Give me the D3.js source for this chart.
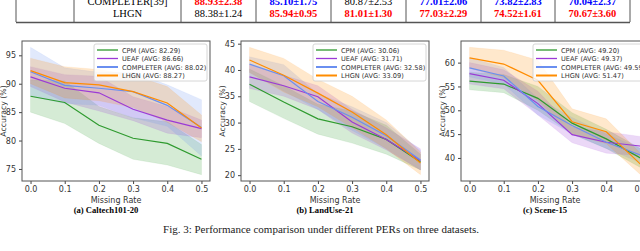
<!DOCTYPE html>
<html>
<head>
<meta charset="utf-8">
<script src="https://cdn.jsdelivr.net/npm/d3@7"></script>
<style>
  body { margin: 0; background: #fff; }
  svg { display: block; }
</style>
</head>
<body>
<div id="fig"></div>
<script>
// ---- data ----
const rates = [0.0, 0.1, 0.2, 0.3, 0.4, 0.5];
const methods = ['CPM', 'UEAF', 'COMPLETER', 'LHGN'];
const methodColors = ['#2e9a2e', '#9b3ad6', '#6a8ff0', '#ff8c00'];

const caltechMean = [
  [87.8, 86.7, 82.7, 80.4, 79.5, 76.7],
  [91.2, 89.2, 88.4, 85.5, 83.6, 82.1],
  [92.1, 89.7, 89.2, 88.6, 86.2, 82.3],
  [92.3, 90.2, 89.8, 88.6, 86.6, 82.2]
];
const caltechLow = [
  [85.0, 83.0, 79.5, 76.7, 75.7, 74.0],
  [89.5, 86.8, 85.2, 83.5, 81.3, 80.5],
  [87.8, 86.5, 86.2, 84.0, 82.5, 77.3],
  [90.0, 87.5, 87.0, 85.8, 83.2, 79.8]
];
const caltechHigh = [
  [90.7, 90.5, 86.0, 84.0, 83.3, 79.3],
  [93.0, 91.6, 91.3, 87.7, 86.0, 83.6],
  [96.4, 92.8, 92.0, 92.0, 89.8, 87.2],
  [94.5, 93.0, 92.5, 91.5, 89.5, 84.5]
];
const caltechAvg = ['82.29', '86.66', '88.02', '88.27'];

const landuseMean = [
  [37.3, 33.9, 30.7, 29.2, 26.8, 22.5],
  [38.7, 37.0, 34.9, 30.1, 26.8, 22.8],
  [41.1, 38.9, 34.0, 31.0, 27.5, 22.9],
  [41.9, 39.0, 35.6, 32.0, 27.7, 22.3]
];
const landuseLow = [
  [34.0, 30.8, 27.8, 26.1, 24.0, 21.0],
  [36.5, 35.0, 32.5, 28.0, 24.8, 21.0],
  [39.5, 36.0, 32.5, 28.5, 25.0, 21.0],
  [39.5, 35.8, 33.0, 29.0, 25.0, 20.1]
];
const landuseHigh = [
  [40.2, 37.0, 33.5, 32.2, 29.5, 24.0],
  [41.0, 39.0, 37.0, 32.5, 29.0, 25.0],
  [42.5, 41.0, 35.5, 33.0, 30.0, 24.7],
  [44.3, 42.2, 38.2, 35.0, 30.5, 24.4]
];
const landuseAvg = ['30.06', '31.71', '32.58', '33.09'];

const sceneMean = [
  [56.1, 55.5, 52.5, 47.3, 44.0, 40.0],
  [57.7, 56.3, 51.4, 44.9, 43.3, 42.5],
  [58.9, 57.2, 50.8, 46.8, 43.3, 40.6],
  [61.0, 59.7, 56.3, 47.6, 45.5, 38.7]
];
const sceneLow = [
  [54.3, 53.7, 50.0, 45.0, 42.0, 38.0],
  [55.5, 54.5, 49.0, 43.2, 41.0, 40.5],
  [57.0, 55.5, 49.0, 45.0, 42.0, 39.0],
  [58.8, 56.8, 52.0, 45.0, 43.0, 36.5]
];
const sceneHigh = [
  [58.0, 57.5, 55.0, 49.5, 46.0, 42.0],
  [60.0, 58.5, 54.0, 46.5, 45.5, 44.5],
  [61.0, 59.0, 52.5, 48.5, 45.0, 42.0],
  [63.2, 62.6, 60.5, 50.3, 48.2, 41.0]
];
const sceneAvg = ['49.20', '49.37', '49.59', '51.47'];

const xTicks = [0.0, 0.1, 0.2, 0.3, 0.4, 0.5];
const caltechTicks = [75, 80, 85, 90, 95];
const landuseTicks = [20, 25, 30, 35, 40, 45];
const sceneTicks = [40, 45, 50, 55, 60];

// table fragment at the top
const tableMethods = ['COMPLETER[39]', 'LHGN'];
const tableValues = [
  ['88.93±2.38', '85.10±1.75', '80.87±2.53', '77.01±2.06', '73.82±2.83', '70.04±2.37'],
  ['88.38±1.24', '85.94±0.95', '81.01±1.30', '77.03±2.29', '74.52±1.61', '70.67±3.60']
];
const tableColors = [
  ['red', 'blue', 'black', 'blue', 'blue', 'blue'],
  ['black', 'red', 'red', 'red', 'red', 'red']
];

const W = 640, H = 251;
const svg = d3.select('#fig').append('svg')
    .attr('width', W)
    .attr('height', H);

// ---- table ----
const colLines = [16, 74, 181, 256, 331, 406, 481, 555, 630];
const tbl = svg.append('g');
colLines.forEach(x => {
    tbl.append('line')
        .attr('x1', x).attr('x2', x)
        .attr('y1', -2).attr('y2', 22)
        .attr('stroke', '#555').attr('stroke-width', 1);
});
tbl.append('line')
    .attr('x1', 16).attr('x2', 630)
    .attr('y1', 22.5).attr('y2', 22.5)
    .attr('stroke', '#555').attr('stroke-width', 1.3);
const rowY = [5, 17];
tableMethods.forEach((m, r) => {
    tbl.append('text')
        .attr('x', (colLines[1] + colLines[2]) / 2)
        .attr('y', rowY[r])
        .attr('text-anchor', 'middle')
        .style('font-family', 'Liberation Serif, serif')
        .style('font-size', '10.5px')
        .text(m);
    tableValues[r].forEach((v, c) => {
        let col = tableColors[r][c];
        tbl.append('text')
            .attr('x', (colLines[c + 2] + colLines[c + 3]) / 2)
            .attr('y', rowY[r])
            .attr('text-anchor', 'middle')
            .style('font-family', 'Liberation Serif, serif')
            .style('font-size', '10.5px')
            .style('font-weight', col == 'black' ? 'normal' : 'bold')
            .attr('fill', col)
            .text(v);
    });
});

// ---- panels ----
const panelTop = 41, panelBottom = 181, panelWidth = 188;

function yExtent(low, high) {
    let lo = d3.min(low.flat()), hi = d3.max(high.flat());
    let pad = (hi - lo) * 0.05;
    return [lo - pad, hi + pad];
}

function drawPanel(left, mean, low, high, avg, yTicks, caption) {
    let g = svg.append('g');
    let x = d3.scaleLinear().domain([-0.025, 0.525]).range([left, left + panelWidth]);
    let y = d3.scaleLinear().domain(yExtent(low, high)).range([panelBottom, panelTop]);

    let area = d3.area()
        .x((d, i) => x(rates[i]))
        .y0(d => y(d[0]))
        .y1(d => y(d[1]));
    let line = d3.line()
        .x((d, i) => x(rates[i]))
        .y(d => y(d));

    let clip = 'clip' + left;
    g.append('clipPath').attr('id', clip)
        .append('rect')
        .attr('x', left).attr('y', panelTop)
        .attr('width', panelWidth).attr('height', panelBottom - panelTop);

    let plot = g.append('g').attr('clip-path', `url(#${clip})`);
    methods.forEach((m, k) => {
        plot.append('path')
            .datum(low[k].map((v, i) => [v, high[k][i]]))
            .attr('d', area)
            .attr('fill', methodColors[k])
            .attr('fill-opacity', 0.2)
            .attr('stroke', methodColors[k])
            .attr('stroke-opacity', 0.15)
            .attr('stroke-width', 0.5);
    });
    methods.forEach((m, k) => {
        plot.append('path')
            .datum(mean[k])
            .attr('d', line)
            .attr('fill', 'none')
            .attr('stroke', methodColors[k])
            .attr('stroke-width', 1.2);
    });

    // axes
    let xAxis = g.append('g')
        .attr('transform', `translate(0,${panelBottom})`)
        .call(d3.axisBottom(x).tickValues(xTicks).tickFormat(d3.format('.1f')).tickSize(3).tickPadding(2));
    let yAxis = g.append('g')
        .attr('transform', `translate(${left},0)`)
        .call(d3.axisLeft(y).tickValues(yTicks).tickFormat(d3.format('d')).tickSize(3).tickPadding(3));
    [xAxis, yAxis].forEach(a => {
        a.select('.domain').remove();
        a.selectAll('line').attr('stroke', '#444');
        a.selectAll('text')
            .style('font-family', 'DejaVu Sans, sans-serif')
            .style('font-size', '8px')
            .attr('fill', '#333');
    });

    g.append('rect')
        .attr('x', left).attr('y', panelTop)
        .attr('width', panelWidth).attr('height', panelBottom - panelTop)
        .attr('fill', 'none')
        .attr('stroke', '#555')
        .attr('stroke-width', 1);

    g.append('text')
        .attr('x', left + panelWidth / 2)
        .attr('y', 202.5)
        .attr('text-anchor', 'middle')
        .style('font-family', 'DejaVu Sans, sans-serif')
        .style('font-size', '8px')
        .attr('fill', '#333')
        .text('Missing Rate');

    g.append('text')
        .attr('transform', `translate(${left - 16},${(panelTop + panelBottom) / 2}) rotate(-90)`)
        .attr('text-anchor', 'middle')
        .style('font-family', 'DejaVu Sans, sans-serif')
        .style('font-size', '7.8px')
        .attr('fill', '#333')
        .text('Accuracy (%)');

    // legend
    let lg = g.append('g').attr('transform', `translate(${left + panelWidth - 116},${panelTop + 3})`);
    lg.append('rect')
        .attr('width', 113).attr('height', 37)
        .attr('rx', 2)
        .attr('fill', '#fff').attr('fill-opacity', 0.8)
        .attr('stroke', '#ccc').attr('stroke-width', 0.8);
    methods.forEach((m, k) => {
        let ly = 6 + k * 8.5;
        lg.append('line')
            .attr('x1', 3).attr('x2', 24)
            .attr('y1', ly).attr('y2', ly)
            .attr('stroke', methodColors[k])
            .attr('stroke-width', k >= 2 ? 2 : 1.3);
        lg.append('text')
            .attr('x', 28).attr('y', ly + 2.5)
            .style('font-family', 'DejaVu Sans, sans-serif')
            .style('font-size', '6.6px')
            .attr('fill', '#333')
            .text(`${m} (AVG: ${avg[k]})`);
    });

    svg.append('text')
        .attr('x', left + panelWidth / 2 - 10)
        .attr('y', 213)
        .attr('text-anchor', 'middle')
        .style('font-family', 'Liberation Serif, serif')
        .style('font-size', '8.6px')
        .style('font-weight', 'bold')
        .text(caption);
}

drawPanel(22, caltechMean, caltechLow, caltechHigh, caltechAvg, caltechTicks, '(a) Caltech101-20');
drawPanel(241, landuseMean, landuseLow, landuseHigh, landuseAvg, landuseTicks, '(b) LandUse-21');
drawPanel(461, sceneMean, sceneLow, sceneHigh, sceneAvg, sceneTicks, '(c) Scene-15');

svg.append('text')
    .attr('x', 321)
    .attr('y', 233)
    .attr('text-anchor', 'middle')
    .style('font-family', 'Liberation Serif, serif')
    .style('font-size', '11px')
    .attr('fill', '#222')
    .text('Fig. 3: Performance comparison under different PERs on three datasets.');
</script>
</body>
</html>
